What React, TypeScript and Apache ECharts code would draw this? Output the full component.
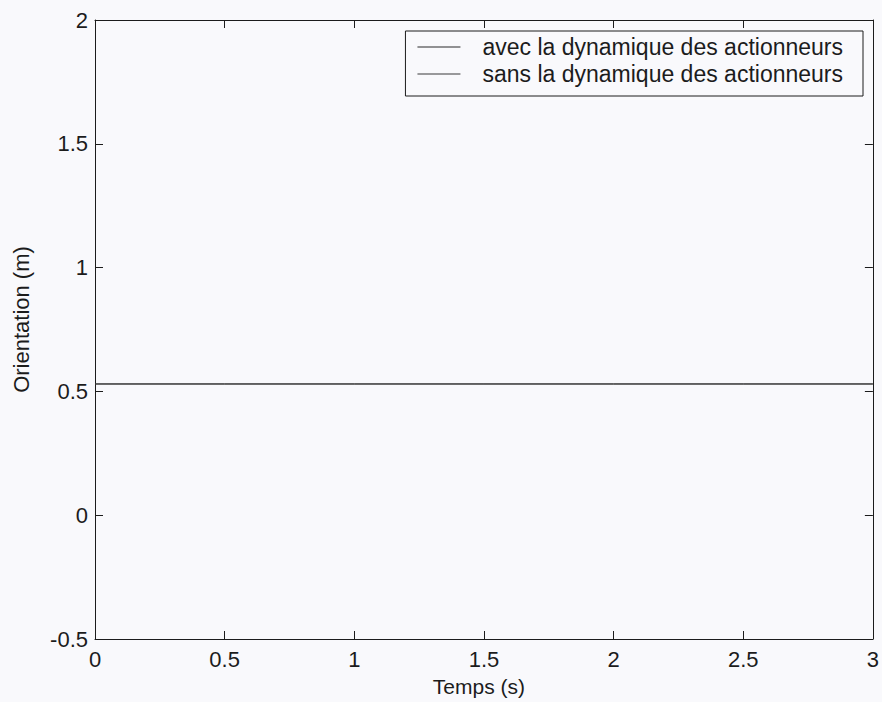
import React, { useEffect, useRef } from "react";
import * as echarts from "echarts";

const timeValues = [0, 0.5, 1, 1.5, 2, 2.5, 3];
const avecValues = [0.53, 0.53, 0.53, 0.53, 0.53, 0.53, 0.53];
const sansValues = [0.53, 0.53, 0.53, 0.53, 0.53, 0.53, 0.53];
const seriesNames = ["avec la dynamique des actionneurs", "sans la dynamique des actionneurs"];
const xTitle = "Temps (s)";
const yTitle = "Orientation (m)";

const FONT = "'Liberation Sans', Arial, Helvetica, sans-serif";
const INK = "#1c1c1c";

export default function App() {
  const ref = useRef<HTMLDivElement>(null);
  useEffect(() => {
    if (!ref.current) return;
    const chart = echarts.init(ref.current, undefined, { renderer: "svg" });
    const avec = timeValues.map((t, i) => [t, avecValues[i]]);
    const sans = timeValues.map((t, i) => [t, sansValues[i]]);
    const lineCommon = { show: true, onZero: false, lineStyle: { color: INK, width: 1 } };
    const tickCommon = { show: true, inside: true, length: 8, lineStyle: { color: INK } };
    const boxAxis = {
      show: true,
      axisLine: lineCommon,
      axisTick: tickCommon,
      axisLabel: { show: false },
      splitLine: { show: false },
    };
    chart.setOption({
      animation: false,
      backgroundColor: "#f9f9fc",
      textStyle: { fontFamily: FONT },
      grid: { left: 95, right: 5, top: 20, bottom: 62, containLabel: false },
      legend: {
        data: seriesNames,
        orient: "vertical",
        right: 19,
        top: 31,
        icon: "rect",
        itemWidth: 43,
        itemHeight: 1,
        itemGap: 3,
        padding: [4, 20, 10, 12],
        backgroundColor: "#f9f9fc",
        borderColor: INK,
        borderWidth: 1,
        borderRadius: 0,
        textStyle: { fontFamily: FONT, fontSize: 23, color: INK, lineHeight: 24, padding: [0, 0, 0, 17] },
      },
      xAxis: [
        {
          type: "value",
          min: 0,
          max: 3,
          interval: 0.5,
          position: "bottom",
          name: xTitle,
          nameLocation: "middle",
          nameGap: 37,
          nameTextStyle: { fontFamily: FONT, fontSize: 21, color: INK, padding: [0, 10, 0, 0] },
          axisLine: lineCommon,
          axisTick: tickCommon,
          axisLabel: { fontFamily: FONT, fontSize: 22, color: INK, margin: 9 },
          splitLine: { show: false },
        },
        { ...boxAxis, type: "value", min: 0, max: 3, interval: 0.5, position: "top" },
      ],
      yAxis: [
        {
          type: "value",
          min: -0.5,
          max: 2,
          interval: 0.5,
          position: "left",
          name: yTitle,
          nameLocation: "middle",
          nameGap: 63,
          nameTextStyle: { fontFamily: FONT, fontSize: 22, color: INK, padding: [0, 0, 0, 20] },
          axisLine: lineCommon,
          axisTick: tickCommon,
          axisLabel: { fontFamily: FONT, fontSize: 22, color: INK, margin: 7 },
          splitLine: { show: false },
        },
        { ...boxAxis, type: "value", min: -0.5, max: 2, interval: 0.5, position: "right" },
      ],
      series: [
        {
          name: seriesNames[0],
          type: "line",
          data: avec,
          showSymbol: false,
          lineStyle: { color: "#2a2a2a", width: 1 },
          itemStyle: { color: "#2a2a2a" },
        },
        {
          name: seriesNames[1],
          type: "line",
          data: sans,
          showSymbol: false,
          lineStyle: { color: "#3a3a3a", width: 1 },
          itemStyle: { color: "#3a3a3a" },
        },
      ],
    });
    return () => chart.dispose();
  }, []);
  return (
    <div
      ref={ref}
      style={{ position: "fixed", left: 0, top: 0, width: 882, height: 702, background: "#f9f9fc" }}
    />
  );
}
